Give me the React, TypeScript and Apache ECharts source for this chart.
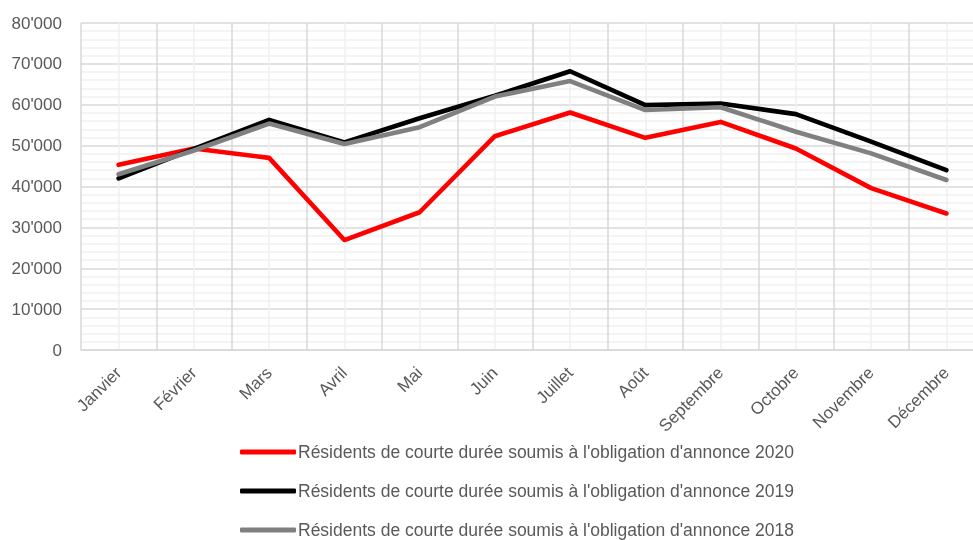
import React, { useEffect, useRef } from "react";
import * as echarts from "echarts";

const months = ["Janvier", "Février", "Mars", "Avril", "Mai", "Juin", "Juillet", "Août", "Septembre", "Octobre", "Novembre", "Décembre"];
const name2020 = "Résidents de courte durée soumis à l'obligation d'annonce 2020";
const name2019 = "Résidents de courte durée soumis à l'obligation d'annonce 2019";
const name2018 = "Résidents de courte durée soumis à l'obligation d'annonce 2018";
const values2020 = [45300, 49300, 47000, 26900, 33700, 52300, 58100, 51900, 55800, 49300, 39600, 33400];
const values2019 = [42000, 49200, 56300, 50800, 56700, 62200, 68200, 59900, 60300, 57700, 51000, 44000];
const values2018 = [43000, 48800, 55400, 50400, 54500, 62000, 65800, 58700, 59400, 53400, 48100, 41600];

const FONT = "'Liberation Sans', Arial, sans-serif";
const TXT = "#595959";
const MAJOR = "#d9d9d9";
const MINOR = "#f0f0f0";

const fmt = (v: number) => (v === 0 ? "0" : String(v).replace(/\B(?=(\d{3})+(?!\d))/g, "'"));

export default function App() {
  const ref = useRef<HTMLDivElement>(null);
  useEffect(() => {
    if (!ref.current) return;
    const chart = echarts.init(ref.current, undefined, { renderer: "svg" });
    const mk = (name: string, data: number[], color: string) => ({
      name,
      type: "line",
      data,
      xAxisIndex: 0,
      symbol: "none",
      showSymbol: false,
      lineStyle: { color, width: 4.6, cap: "round", join: "round" },
      itemStyle: { color },
    });
    chart.setOption({
      animation: false,
      textStyle: { fontFamily: FONT },
      grid: { left: 81, top: 23, width: 903, height: 327 },
      xAxis: [
        {
          type: "category",
          data: months,
          boundaryGap: true,
          axisLine: { show: true, lineStyle: { color: MAJOR, width: 1.5 } },
          axisTick: { show: false },
          splitLine: { show: false },
          axisLabel: { rotate: 45, fontSize: 17, color: TXT, fontFamily: FONT, margin: 20, interval: 0 },
        },
        {
          type: "value",
          position: "bottom",
          min: 0,
          max: 24,
          interval: 2,
          axisLine: { show: false },
          axisTick: { show: false },
          axisLabel: { show: false },
          splitLine: { show: true, lineStyle: { color: MAJOR, width: 1.5 } },
          minorTick: { show: false, splitNumber: 2 },
          minorSplitLine: { show: true, lineStyle: { color: MINOR, width: 1.5 } },
        },
      ],
      yAxis: {
        type: "value",
        min: 0,
        max: 80000,
        interval: 10000,
        axisLine: { show: false },
        axisTick: { show: false },
        axisLabel: { fontSize: 17, color: TXT, fontFamily: FONT, margin: 19, formatter: fmt },
        splitLine: { show: true, lineStyle: { color: MAJOR, width: 1.5 } },
        minorTick: { show: false, splitNumber: 5 },
        minorSplitLine: { show: true, lineStyle: { color: MINOR, width: 1.5 } },
      },
      legend: {
        orient: "vertical",
        left: 235,
        top: 438,
        height: 200,
        itemWidth: 56,
        itemHeight: 5,
        itemGap: 21,
        icon: "roundRect",
        textStyle: { fontSize: 17.5, color: TXT, fontFamily: FONT, padding: [0, 0, 0, -3] },
        data: [name2020, name2019, name2018],
      },
      series: [
        mk(name2020, values2020, "#ff0000"),
        mk(name2019, values2019, "#000000"),
        mk(name2018, values2018, "#808080"),
      ],
    });
    return () => chart.dispose();
  }, []);
  return (
    <div style={{ position: "fixed", left: 0, top: 0, width: 973, height: 540, overflow: "hidden" }}>
      <div ref={ref} style={{ width: 995, height: 540 }} />
    </div>
  );
}
